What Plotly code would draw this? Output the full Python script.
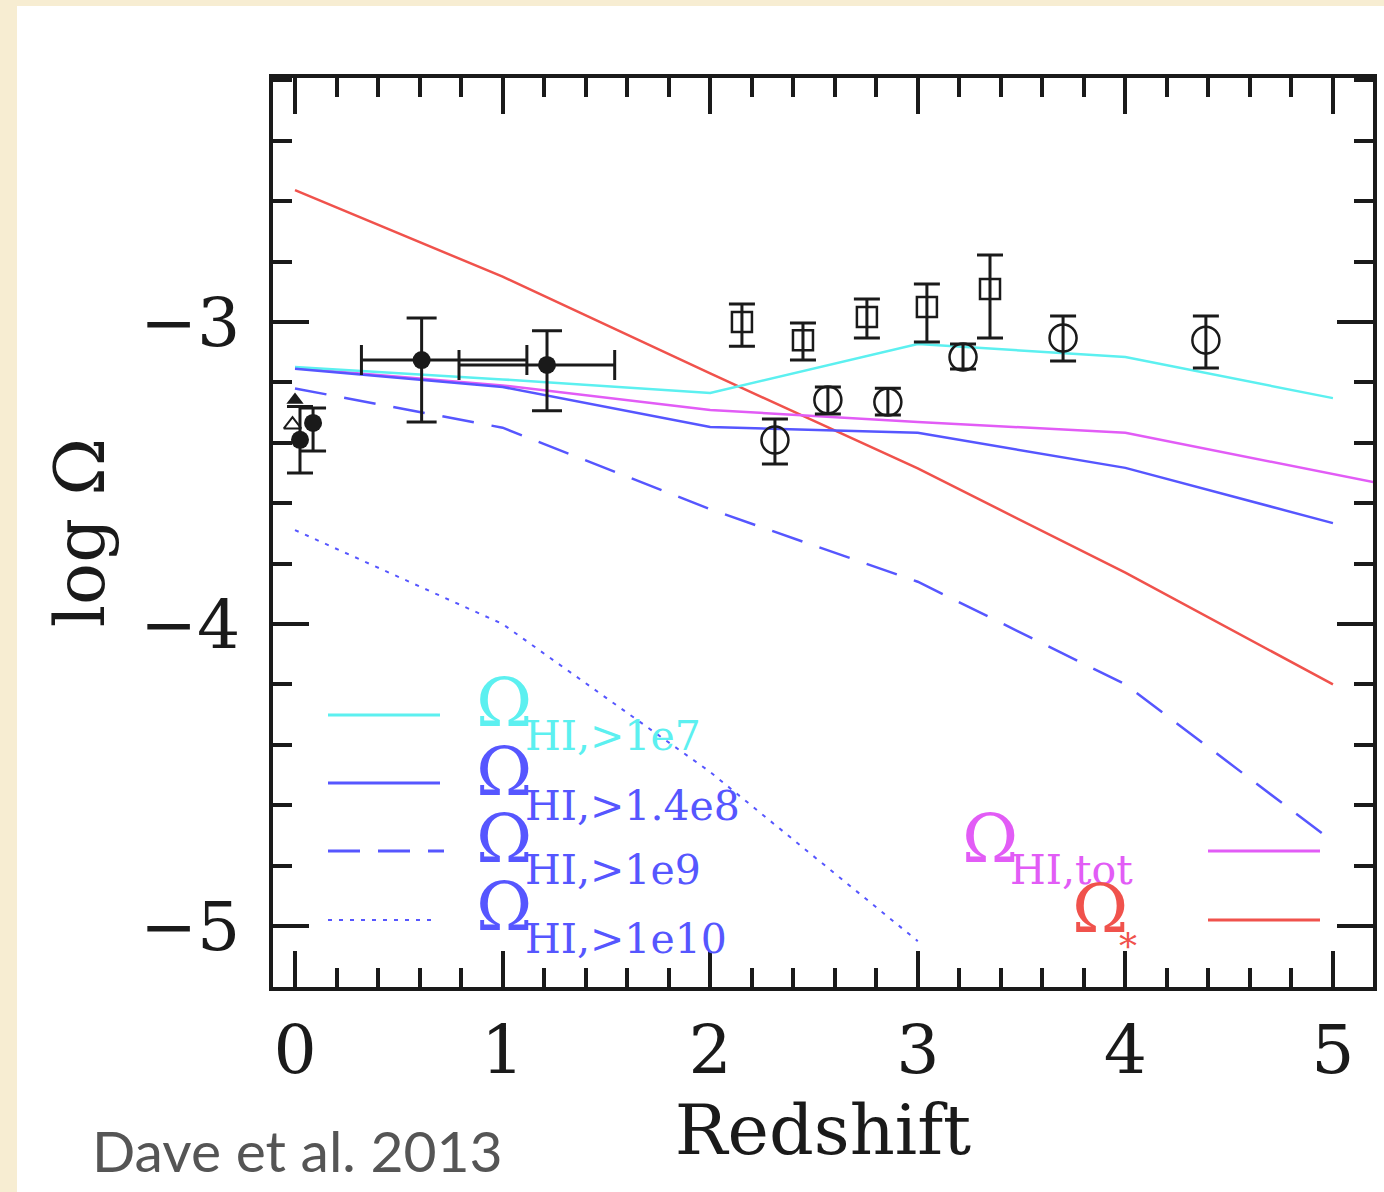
import plotly.graph_objects as go

# ---------------- data ----------------
z_grid = [0, 1, 2, 3, 4, 5]
omega_hi_1e7 = [-3.149, -3.19, -3.235, -3.073, -3.116, -3.252]
omega_hi_14e8 = [-3.155, -3.215, -3.348, -3.367, -3.483, -3.666]
omega_hi_1e9 = [-3.22, -3.35, -3.62, -3.86, -4.20, -4.72]
z_1e10 = [0, 1, 2, 3]
omega_hi_1e10 = [-3.689, -4.0, -4.49, -5.05]
z_tot = [0, 1, 2, 3, 4, 5, 6]
omega_hi_tot = [-3.152, -3.21, -3.291, -3.331, -3.367, -3.503, -3.64]
omega_star = [-2.563, -2.85, -3.17, -3.485, -3.83, -4.20]

# DLA points with x and y errors (filled circles)
dla_z = [0.610, 1.214]
dla_y = [-3.126, -3.142]
dla_xm = [0.29, 0.424]
dla_xp = [0.507, 0.326]
dla_yp = [0.139, 0.113]
dla_ym = [0.205, 0.152]

# low-z filled circles
lowz_z = [0.024, 0.087]
lowz_y = [-3.39, -3.334]
lowz_yp = [0.11, 0.049]
lowz_ym = [0.11, 0.093]

# triangles at z=0
tri_f_z, tri_f_y = [0.0], [-3.258]
tri_o_z, tri_o_y = [-0.012], [-3.34]

# open squares
sq_z = [2.153, 2.447, 2.755, 3.044, 3.348]
sq_y = [-3.0, -3.06, -2.983, -2.95, -2.891]
sq_yp = [0.06, 0.057, 0.059, 0.076, 0.113]
sq_ym = [0.08, 0.066, 0.07, 0.116, 0.162]

# open circles
oc_z = [2.312, 2.567, 2.856, 3.218, 3.70, 4.388]
oc_y = [-3.391, -3.258, -3.265, -3.116, -3.053, -3.06]
oc_yp = [0.07, 0.043, 0.046, 0.043, 0.073, 0.08]
oc_ym = [0.079, 0.047, 0.043, 0.04, 0.076, 0.092]

# ---------------- styles ----------------
CYAN = "#5cf0f0"
BLUE = "#5656ff"
MAGENTA = "#e25cf6"
RED = "#f0524c"
INK = "#1a1a1a"
SERIF = "DejaVu Serif"

W, H = 1384, 1192
ML, MR, MT, MB = 273, 11, 78, 205
PW, PH = W - ML - MR, H - MT - MB


def px_x(px):
    return (px - ML) / PW


def px_y(py):
    return (H - MB - py) / PH


fig = go.Figure()

fig.add_trace(go.Scatter(x=z_grid, y=omega_star, mode="lines",
                         line=dict(color=RED, width=2.5), showlegend=False))
fig.add_trace(go.Scatter(x=z_tot, y=omega_hi_tot, mode="lines",
                         line=dict(color=MAGENTA, width=2.5), showlegend=False))
fig.add_trace(go.Scatter(x=z_grid, y=omega_hi_1e7, mode="lines",
                         line=dict(color=CYAN, width=2.5), showlegend=False))
fig.add_trace(go.Scatter(x=z_grid, y=omega_hi_14e8, mode="lines",
                         line=dict(color=BLUE, width=2.5), showlegend=False))
fig.add_trace(go.Scatter(x=z_grid, y=omega_hi_1e9, mode="lines",
                         line=dict(color=BLUE, width=2.5, dash="32px,18px"), showlegend=False))
fig.add_trace(go.Scatter(x=z_1e10, y=omega_hi_1e10, mode="lines",
                         line=dict(color=BLUE, width=2, dash="4px,7px"), showlegend=False))

# observations
fig.add_trace(go.Scatter(
    x=dla_z, y=dla_y, mode="markers",
    marker=dict(symbol="circle", size=18, color=INK),
    error_y=dict(type="data", symmetric=False, array=dla_yp, arrayminus=dla_ym,
                 color=INK, thickness=3, width=15),
    error_x=dict(type="data", symmetric=False, array=dla_xp, arrayminus=dla_xm,
                 color=INK, thickness=3, width=15),
    showlegend=False))
fig.add_trace(go.Scatter(
    x=lowz_z, y=lowz_y, mode="markers",
    marker=dict(symbol="circle", size=18, color=INK),
    error_y=dict(type="data", symmetric=False, array=lowz_yp, arrayminus=lowz_ym,
                 color=INK, thickness=3, width=13),
    showlegend=False))
fig.add_trace(go.Scatter(
    x=tri_f_z, y=tri_f_y, mode="markers",
    marker=dict(symbol="triangle-up", size=15, color=INK),
    showlegend=False))
fig.add_trace(go.Scatter(
    x=tri_o_z, y=tri_o_y, mode="markers",
    marker=dict(symbol="triangle-up-open", size=15, color=INK, line=dict(width=2)),
    showlegend=False))
fig.add_trace(go.Scatter(
    x=sq_z, y=sq_y, mode="markers",
    marker=dict(symbol="square-open", size=20, color=INK, line=dict(width=2.5)),
    error_y=dict(type="data", symmetric=False, array=sq_yp, arrayminus=sq_ym,
                 color=INK, thickness=3, width=13),
    showlegend=False))
fig.add_trace(go.Scatter(
    x=oc_z, y=oc_y, mode="markers",
    marker=dict(symbol="circle-open", size=27, color=INK, line=dict(width=2.5)),
    error_y=dict(type="data", symmetric=False, array=oc_yp, arrayminus=oc_ym,
                 color=INK, thickness=3, width=13),
    showlegend=False))

# ---------------- legend (drawn as decorations) ----------------
shapes = [
    dict(type="rect", xref="paper", yref="paper", x0=px_x(17), x1=px_x(W + 5),
         y0=px_y(H + 5), y1=px_y(6), fillcolor="white", line=dict(width=0), layer="below"),
]
legend_lines = [
    (328, 440, 715, CYAN, "solid", 3),
    (328, 440, 783, BLUE, "solid", 3),
    (328, 444, 851, BLUE, "32px,18px", 3),
    (328, 432, 920, BLUE, "4px,7px", 2),
    (1208, 1320, 851, MAGENTA, "solid", 3),
    (1208, 1320, 920, RED, "solid", 3),
]
for x0, x1, yy, col, dash, w in legend_lines:
    shapes.append(dict(type="line", xref="paper", yref="paper",
                       x0=px_x(x0), x1=px_x(x1), y0=px_y(yy), y1=px_y(yy),
                       line=dict(color=col, width=w, dash=dash)))

annotations = []
legend_labels = [
    (474, 702, 523, 736, "HI,>1e7", CYAN, 41),
    (474, 771, 523, 806, "HI,>1.4e8", BLUE, 41),
    (474, 838, 523, 870, "HI,>1e9", BLUE, 41),
    (474, 906, 523, 939, "HI,>1e10", BLUE, 41),
    (960, 838, 1008, 870, "HI,tot", MAGENTA, 41),
    (1070, 908, 1117, 946, "*", RED, 36),
]
for ox, oy, sx, sy, sub, col, ssize in legend_labels:
    annotations.append(dict(xref="paper", yref="paper", x=px_x(ox), y=px_y(oy),
                            xanchor="left", yanchor="middle", showarrow=False,
                            text="Ω", font=dict(family=SERIF, size=68, color=col)))
    annotations.append(dict(xref="paper", yref="paper", x=px_x(sx), y=px_y(sy),
                            xanchor="left", yanchor="middle", showarrow=False,
                            text=sub, font=dict(family=SERIF, size=ssize, color=col)))

annotations.append(dict(xref="paper", yref="paper", x=px_x(90), y=px_y(1150),
                        xanchor="left", yanchor="middle", showarrow=False,
                        text="Dave et al. 2013",
                        font=dict(family="Lato", size=57, color="#555555")))

axis_common = dict(
    showline=True, linewidth=4, linecolor=INK, mirror="ticks",
    ticks="inside", ticklen=36, tickwidth=4, tickcolor=INK,
    showgrid=False, zeroline=False, dtick=1,
    tickfont=dict(family=SERIF, size=68, color=INK),
    minor=dict(ticks="inside", ticklen=19, tickwidth=4, tickcolor=INK, dtick=0.2, showgrid=False),
)

fig.update_layout(
    width=W, height=H,
    margin=dict(l=ML, r=MR, t=MT, b=MB, autoexpand=False),
    paper_bgcolor="#f7edd2",
    plot_bgcolor="white",
    xaxis=dict(range=[-0.106, 5.193], tick0=0,
               title=dict(text="Redshift", font=dict(family=SERIF, size=70, color=INK), standoff=16),
               ticklabelstandoff=0, **axis_common),
    yaxis=dict(range=[-5.202, -2.192], tick0=-5,
               title=dict(text="log Ω", font=dict(family=SERIF, size=70, color=INK), standoff=14),
               ticklabelstandoff=15, **axis_common),
    shapes=shapes,
    annotations=annotations,
)

fig.write_html("out.html")
